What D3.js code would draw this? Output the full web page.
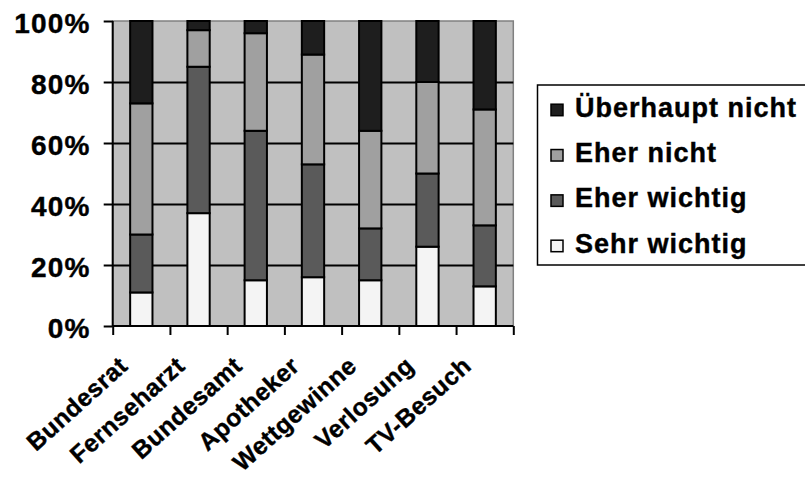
<!DOCTYPE html>
<html>
<head>
<meta charset="utf-8">
<script src="https://cdn.jsdelivr.net/npm/d3@7"></script>
<style>
  body { margin: 0; background: #fff; }
  svg { display: block; font-family: Arial, "Liberation Sans", Helvetica, sans-serif; font-weight: bold; }
</style>
</head>
<body>
<svg width="805" height="479"></svg>
<script>
var categories      = ['Bundesrat', 'Fernseharzt', 'Bundesamt', 'Apotheker', 'Wettgewinne', 'Verlosung', 'TV-Besuch'];
var sehrWichtig     = [11, 37, 15, 16, 15, 26, 13];
var eherWichtig     = [19, 48, 49, 37, 17, 24, 20];
var eherNicht       = [43, 12, 32, 36, 32, 30, 38];
var ueberhauptNicht = [27,  3,  4, 11, 36, 20, 29];
var yTicks          = [0, 0.2, 0.4, 0.6, 0.8, 1];

var seriesNames  = ['Sehr wichtig', 'Eher wichtig', 'Eher nicht', 'Überhaupt nicht'];
var seriesColors = ['#f4f4f4', '#5a5a5a', '#a0a0a0', '#1e1e1e'];

var rows = categories.map(function(c, i) {
  return {cat: c, 'Sehr wichtig': sehrWichtig[i], 'Eher wichtig': eherWichtig[i],
          'Eher nicht': eherNicht[i], 'Überhaupt nicht': ueberhauptNicht[i]};
});

var FONT = 'Arial, "Liberation Sans", Helvetica, sans-serif';
var L = 112.7, R = 513.3, T = 21, B = 326;
var svg = d3.select('svg');

var x = d3.scaleBand().domain(categories).range([L, R]);
var xEdge = d3.scaleLinear().domain([0, categories.length]).range([L, R]);
var y = d3.scaleLinear().domain([0, 1]).range([B, T]);
var color = d3.scaleOrdinal().domain(seriesNames).range(seriesColors);
var barW = x.bandwidth() * 0.39;

var stacked = d3.stack().keys(seriesNames).offset(d3.stackOffsetExpand)(rows);

// plot background
svg.append('rect')
   .attr('x', L).attr('y', T)
   .attr('width', R - L).attr('height', B - T)
   .attr('fill', '#c0c0c0')
   .attr('stroke', '#808080').attr('stroke-width', 1.5);

// gridlines
svg.append('g')
   .attr('transform', 'translate(' + L + ',0)')
   .call(d3.axisLeft(y).tickValues(yTicks.slice(1, -1)).tickSize(-(R - L)).tickFormat(''))
   .call(function(g) { g.select('.domain').remove(); })
   .selectAll('line').attr('stroke', '#000').attr('stroke-width', 2);

// bars
svg.append('g').selectAll('g')
   .data(stacked)
   .enter().append('g')
   .attr('fill', function(d) { return color(d.key); })
   .selectAll('rect')
   .data(function(d) { return d; })
   .enter().append('rect')
   .attr('x', function(d) { return x(d.data.cat) + (x.bandwidth() - barW) / 2; })
   .attr('y', function(d) { return y(d[1]); })
   .attr('width', barW)
   .attr('height', function(d) { return y(d[0]) - y(d[1]); })
   .attr('stroke', '#000').attr('stroke-width', 2);

// y axis
var yAxis = svg.append('g')
   .attr('transform', 'translate(' + L + ',0)')
   .call(d3.axisLeft(y).tickValues(yTicks).tickSize(9).tickPadding(13).tickFormat(d3.format('.0%')));
yAxis.attr('font-family', null).attr('font-size', null);
yAxis.select('.domain').attr('stroke', '#000').attr('stroke-width', 2).attr('d', 'M0,' + T + 'V' + B);
yAxis.selectAll('line').attr('stroke', '#000').attr('stroke-width', 2);
yAxis.selectAll('text')
   .attr('dy', '0.42em')
   .style('font-size', '28px').style('letter-spacing', '1.2px')
   .style('font-family', FONT).style('font-weight', 'bold')
   .attr('fill', '#000').attr('stroke', '#000').attr('stroke-width', 0.4);

// x axis
var xAxis = svg.append('g')
   .attr('transform', 'translate(0,' + B + ')')
   .call(d3.axisBottom(xEdge).ticks(categories.length).tickSize(9).tickFormat(''));
xAxis.select('.domain').attr('stroke', '#000').attr('stroke-width', 2).attr('d', 'M' + L + ',0H' + R);
xAxis.selectAll('line').attr('stroke', '#000').attr('stroke-width', 2);

svg.append('g').selectAll('text')
   .data(categories)
   .enter().append('text')
   .attr('transform', function(d) {
     return 'translate(' + (x(d) + x.bandwidth() / 2 - 12) + ',368) rotate(-42)';
   })
   .attr('text-anchor', 'end')
   .attr('stroke', '#000').attr('stroke-width', 0.4)
   .style('font-family', FONT)
   .style('font-size', '24.5px').style('letter-spacing', '0.5px')
   .text(function(d) { return d; });

// legend
var legend = svg.append('g');
legend.append('rect')
   .attr('x', 537.5).attr('y', 85)
   .attr('width', 280).attr('height', 180)
   .attr('fill', '#fff').attr('stroke', '#000').attr('stroke-width', 1.5);

var legendKeys = seriesNames.slice().reverse();
var ly = d3.scalePoint().domain(legendKeys).range([116.7, 252.7]);

var items = legend.selectAll('.item')
   .data(legendKeys)
   .enter().append('g')
   .attr('class', 'item')
   .attr('transform', function(d) { return 'translate(0,' + ly(d) + ')'; });
items.append('rect')
   .attr('x', 551).attr('y', -12.5)
   .attr('width', 12).attr('height', 11.5)
   .attr('fill', function(d) { return color(d); })
   .attr('stroke', '#000').attr('stroke-width', 1.5);
items.append('text')
   .attr('x', 575)
   .attr('stroke', '#000').attr('stroke-width', 0.4)
   .style('font-family', FONT)
   .style('font-size', '27px').style('letter-spacing', '1px')
   .text(function(d) { return d; });
</script>
</body>
</html>
